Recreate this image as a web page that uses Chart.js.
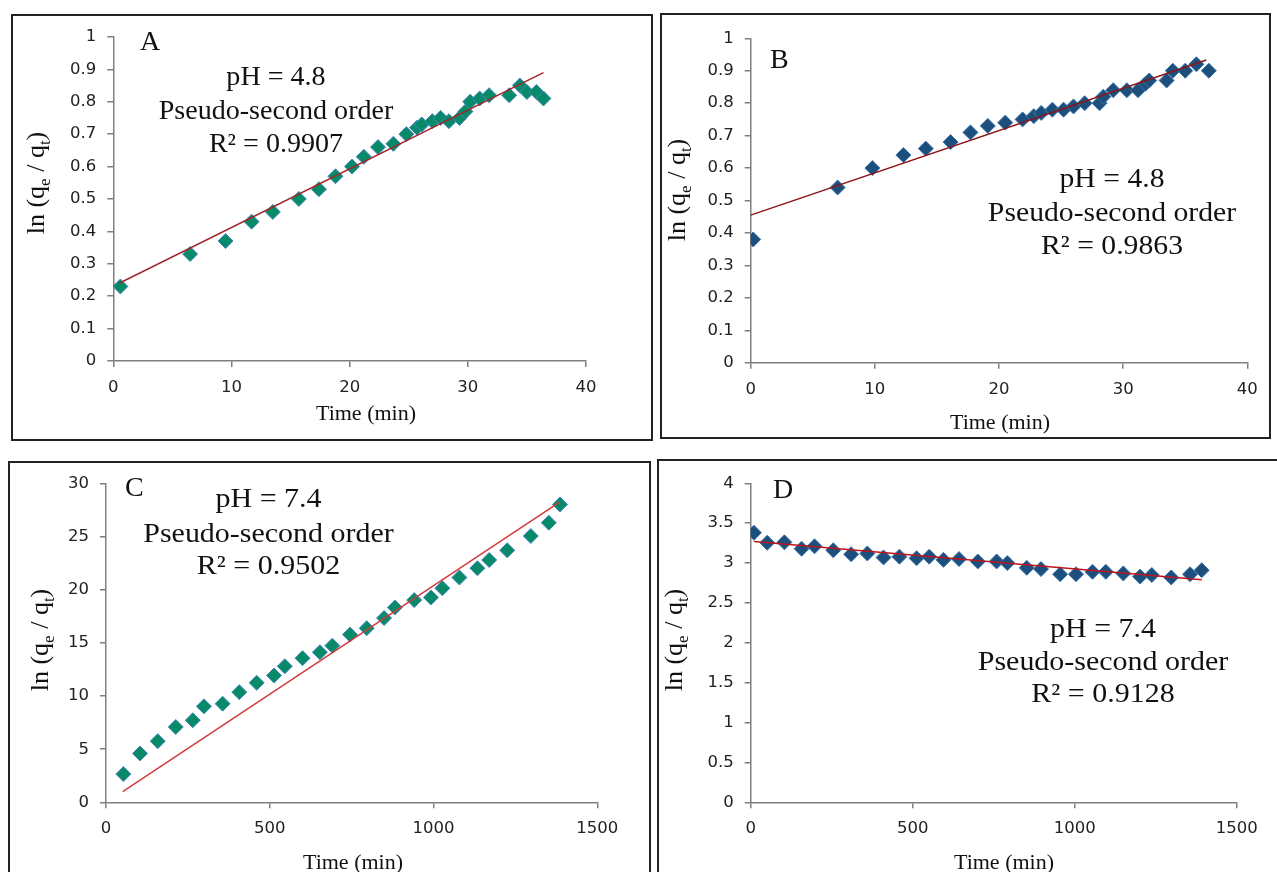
<!DOCTYPE html>
<html>
<head>
<meta charset="utf-8">
<script src="https://cdn.jsdelivr.net/npm/chart.js@4.4.1/dist/chart.umd.min.js"></script>
<style>
  body { margin: 0; background: #fff; width: 1277px; height: 872px; overflow: hidden; position: relative; }
  .panel { position: absolute; border: 2px solid #222; box-sizing: border-box; background: #fff; }
  .panel canvas { position: absolute; left: 0; top: 0; }
</style>
</head>
<body>
<div class="panel" id="pA"><canvas></canvas></div>
<div class="panel" id="pB"><canvas></canvas></div>
<div class="panel" id="pC"><canvas></canvas></div>
<div class="panel" id="pD"><canvas></canvas></div>
<script>
// A: pH 4.8, time in min
const timeA = [0.6, 6.5, 9.5, 11.7, 13.5, 15.7, 17.4, 18.8, 20.2, 21.2, 22.4, 23.7, 24.8, 25.7, 26.1, 27.0, 27.7, 28.4, 29.3, 29.8, 30.2, 31.0, 31.8, 33.5, 34.4, 35.0, 35.8, 36.4];
const lnA = [0.23, 0.33, 0.37, 0.43, 0.46, 0.50, 0.53, 0.57, 0.60, 0.63, 0.66, 0.67, 0.70, 0.72, 0.73, 0.74, 0.75, 0.74, 0.75, 0.77, 0.80, 0.81, 0.82, 0.82, 0.85, 0.83, 0.83, 0.81];
const fitTimeA = [0.5, 36.4];
const fitA = [0.24, 0.89];

// B: pH 4.8
const timeB = [0.2, 7.0, 9.8, 12.3, 14.1, 16.1, 17.7, 19.1, 20.5, 21.9, 22.8, 23.4, 24.3, 25.2, 26.0, 26.9, 28.1, 28.4, 29.2, 30.3, 31.2, 31.8, 32.1, 33.5, 34.0, 35.0, 35.9, 36.9];
const lnB = [0.38, 0.54, 0.60, 0.64, 0.66, 0.68, 0.71, 0.73, 0.74, 0.75, 0.76, 0.77, 0.78, 0.78, 0.79, 0.80, 0.80, 0.82, 0.84, 0.84, 0.84, 0.86, 0.87, 0.87, 0.90, 0.90, 0.92, 0.90];
const fitTimeB = [0, 36.7];
const fitB = [0.455, 0.933];

// C: pH 7.4
const timeC = [53, 104, 158, 213, 265, 299, 356, 407, 460, 513, 546, 600, 653, 691, 745, 796, 849, 882, 941, 992, 1027, 1079, 1134, 1170, 1225, 1297, 1352, 1386];
const lnC = [2.66, 4.6, 5.76, 7.1, 7.73, 9.04, 9.29, 10.38, 11.26, 11.95, 12.82, 13.58, 14.14, 14.76, 15.8, 16.4, 17.36, 18.36, 19.05, 19.3, 20.17, 21.18, 22.05, 22.83, 23.74, 25.09, 26.34, 28.06];
const fitTimeC = [51, 1386];
const fitC = [1.0, 28.3];

// D: pH 7.4
const timeD = [10, 51, 104, 157, 197, 255, 310, 360, 410, 459, 512, 551, 595, 643, 701, 759, 792, 852, 896, 955, 1004, 1055, 1096, 1150, 1202, 1238, 1298, 1356, 1392];
const lnD = [3.38, 3.255, 3.26, 3.18, 3.21, 3.16, 3.11, 3.12, 3.07, 3.08, 3.06, 3.08, 3.04, 3.05, 3.02, 3.02, 3.0, 2.94, 2.925, 2.86, 2.86, 2.89, 2.89, 2.87, 2.83, 2.85, 2.82, 2.86, 2.91];
const fitTimeD = [10, 1392];
const fitD = [3.27, 2.79];

const notesA = ['pH = 4.8', 'Pseudo-second order', 'R\u00B2 = 0.9907'];
const notesB = ['pH = 4.8', 'Pseudo-second order', 'R\u00B2 = 0.9863'];
const notesC = ['pH = 7.4', 'Pseudo-second order', 'R\u00B2 = 0.9502'];
const notesD = ['pH = 7.4', 'Pseudo-second order', 'R\u00B2 = 0.9128'];

const serif = '"Liberation Serif", "Times New Roman", serif';
const tickFont = { family: 'DejaVu Sans', size: 16.5 };
const fmt = v => String(parseFloat(Number(v).toFixed(2)));

function textPlugin(p, ox, oy) {
  return {
    id: 'txt' + p.id,
    afterDraw(chart) {
      const ctx = chart.ctx;
      ctx.save();
      ctx.fillStyle = '#111';
      ctx.textBaseline = 'alphabetic';

      ctx.font = '28px ' + serif;
      ctx.textAlign = 'left';
      ctx.fillText(p.letter, p.letterAt[0] - ox, p.letterAt[1] - oy);

      ctx.font = '27px ' + serif;
      ctx.textAlign = 'center';
      p.notes.forEach((t, i) => {
        ctx.save();
        ctx.translate(p.noteX - ox, p.noteY[i] - oy);
        ctx.scale(p.stretch, 1);
        ctx.fillText(t, 0, 0);
        ctx.restore();
      });

      ctx.font = '22px ' + serif;
      ctx.fillText('Time (min)', p.xTitle[0] - ox, p.xTitle[1] - oy);

      // y title with subscripts
      const parts = [['ln (q', 0], ['e', 1], [' / q', 0], ['t', 1], [')', 0]];
      const big = '26px ' + serif, small = '17px ' + serif;
      let total = 0;
      parts.forEach(([t, s]) => { ctx.font = s ? small : big; total += ctx.measureText(t).width; });
      ctx.translate(p.yTitle[0] - ox, p.yTitle[1] - oy);
      ctx.rotate(-Math.PI / 2);
      ctx.textAlign = 'left';
      let x = -total / 2;
      parts.forEach(([t, s]) => {
        ctx.font = s ? small : big;
        ctx.fillText(t, x, s ? 6 : 0);
        x += ctx.measureText(t).width;
      });
      ctx.restore();
    }
  };
}

function buildPanel(p) {
  const wrap = document.getElementById(p.id);
  const [bx, by, bw, bh] = p.box;
  Object.assign(wrap.style, { left: bx + 'px', top: by + 'px', width: bw + 'px', height: bh + 'px' });
  const cv = wrap.querySelector('canvas');
  const cw = bw - 4, ch = bh - 4;
  cv.width = cw; cv.height = ch;
  cv.style.width = cw + 'px'; cv.style.height = ch + 'px';
  const ox = bx + 2, oy = by + 2;
  const L = p.plot[0] - ox, T = p.plot[1] - oy, R = p.plot[2] - ox, B = p.plot[3] - oy;

  new Chart(cv, {
    type: 'scatter',
    data: {
      datasets: [
        {
          type: 'line',
          data: p.fx.map((x, i) => ({ x, y: p.fy[i] })),
          borderColor: p.line, borderWidth: 1.5, pointRadius: 0, fill: false, order: 0
        },
        {
          data: p.xs.map((x, i) => ({ x, y: p.ys[i] })),
          pointStyle: 'rectRot', pointRadius: 7.5,
          backgroundColor: p.fill, borderColor: p.edge, borderWidth: 1, order: 1
        }
      ]
    },
    options: {
      responsive: false, animation: false, events: [],
      layout: { padding: { left: 0, top: T, right: cw - R, bottom: 0 } },
      plugins: { legend: { display: false }, tooltip: { enabled: false } },
      scales: {
        x: {
          type: 'linear', min: 0, max: p.xMax,
          ticks: { stepSize: p.xStep, font: tickFont, color: '#222', padding: 11, callback: fmt, maxRotation: 0 },
          grid: { drawOnChartArea: false, tickLength: 6, color: '#7f7f7f', lineWidth: 1.5 },
          border: { color: '#7f7f7f', width: 1.5 },
          afterFit: s => { s.height = ch - B; }
        },
        y: {
          type: 'linear', min: 0, max: p.yMax,
          ticks: { stepSize: p.yStep, font: tickFont, color: '#222', padding: 11, callback: fmt },
          grid: { drawOnChartArea: false, tickLength: 6, color: '#7f7f7f', lineWidth: 1.5 },
          border: { color: '#7f7f7f', width: 1.5 },
          afterFit: s => { s.width = L; }
        }
      }
    },
    plugins: [textPlugin(p, ox, oy)]
  });
}

const green = '#078a68', greenEdge = '#4a86c0';
const navy = '#1d4f7c', navyEdge = '#3b74a8';

buildPanel({ id: 'pA', box: [11, 14, 642, 427], plot: [113.3, 35.7, 586, 361],
  xs: timeA, ys: lnA, fx: fitTimeA, fy: fitA, fill: green, edge: greenEdge, line: '#a3262a',
  xMax: 40, xStep: 10, yMax: 1, yStep: 0.1,
  letter: 'A', letterAt: [140, 50], notes: notesA, noteX: 276, noteY: [85, 119, 152], stretch: 1.04,
  xTitle: [366, 420], yTitle: [44, 183] });

buildPanel({ id: 'pB', box: [660, 13, 611, 426], plot: [750.7, 38.3, 1247.3, 362.7],
  xs: timeB, ys: lnB, fx: fitTimeB, fy: fitB, fill: navy, edge: navyEdge, line: '#8e1518',
  xMax: 40, xStep: 10, yMax: 1, yStep: 0.1,
  letter: 'B', letterAt: [770, 68], notes: notesB, noteX: 1112, noteY: [187, 220.5, 253.5], stretch: 1.1,
  xTitle: [1000, 429], yTitle: [685, 190] });

buildPanel({ id: 'pC', box: [8, 461, 643, 430], plot: [106, 482.7, 597.3, 802.3],
  xs: timeC, ys: lnC, fx: fitTimeC, fy: fitC, fill: green, edge: greenEdge, line: '#d23b3b',
  xMax: 1500, xStep: 500, yMax: 30, yStep: 5,
  letter: 'C', letterAt: [125, 496], notes: notesC, noteX: 268.5, noteY: [506.7, 541.7, 574], stretch: 1.11,
  xTitle: [353, 869], yTitle: [48, 640] });

buildPanel({ id: 'pD', box: [657, 459, 640, 430], plot: [750.7, 483.3, 1236.7, 802.3],
  xs: timeD, ys: lnD, fx: fitTimeD, fy: fitD, fill: navy, edge: navyEdge, line: '#c0141c',
  xMax: 1500, xStep: 500, yMax: 4, yStep: 0.5,
  letter: 'D', letterAt: [773, 498], notes: notesD, noteX: 1103, noteY: [636.7, 670, 701.7], stretch: 1.11,
  xTitle: [1004, 869], yTitle: [682, 640] });
</script>
</body>
</html>
